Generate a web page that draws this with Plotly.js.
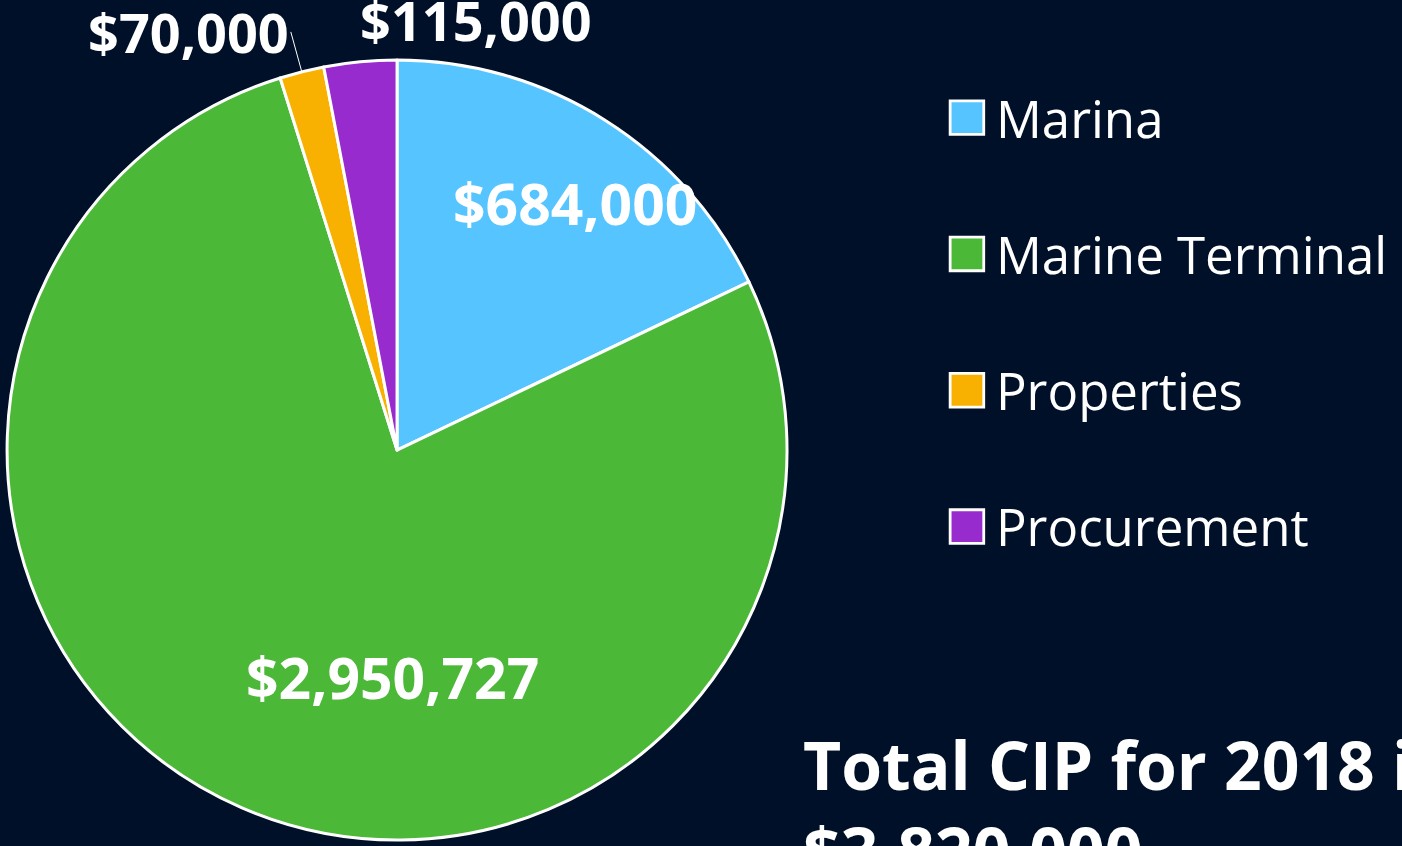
<!DOCTYPE html>
<html>
<head>
<meta charset="utf-8">
<script src="https://cdn.plot.ly/plotly-3.0.1.min.js"></script>
<style>
html,body{margin:0;padding:0;background:#001028;}
#chart{width:1402px;height:846px;}
</style>
</head>
<body>
<div id="chart"></div>
<script>
const categories = ['Marina', 'Marine Terminal', 'Properties', 'Procurement'];
const values = [684000, 2950727, 70000, 115000];
const valueLabels = ['$684,000', '$2,950,727', '$70,000', '$115,000'];
const colors = ['#56C4FF', '#4CB837', '#F8B100', '#972BCD'];
const totalText = 'Total CIP for 2018 is<br>$3,820,000';

const W = 1402, H = 846;
const pieDomain = {x: [0.005, 0.5614], y: [0.0071, 0.929]};

// slice mid-point on the rim, derived from the data (clockwise from 12 o'clock)
function rimPoint(i) {
  const total = values.reduce((a, b) => a + b, 0);
  let before = 0;
  for (let k = 0; k < i; k++) before += values[k];
  const mid = (before + values[i] / 2) / total * 2 * Math.PI;
  const cx = (pieDomain.x[0] + pieDomain.x[1]) / 2;
  const cy = (pieDomain.y[0] + pieDomain.y[1]) / 2;
  const rPx = Math.min((pieDomain.x[1] - pieDomain.x[0]) * W, (pieDomain.y[1] - pieDomain.y[0]) * H) / 2;
  return {x: cx + rPx * Math.sin(mid) / W, y: cy + rPx * Math.cos(mid) / H};
}

const pie = {
  type: 'pie',
  labels: categories,
  values: values,
  textinfo: 'none',
  sort: false,
  direction: 'clockwise',
  rotation: 0,
  marker: {colors: colors, line: {color: '#ffffff', width: 3}},
  domain: pieDomain,
  showlegend: false,
  hoverinfo: 'label+value+percent'
};

const legendTraces = categories.map((c, i) => ({
  type: 'scatter',
  mode: 'markers',
  x: [null], y: [null],
  name: c,
  legendgroup: 'g' + i,
  marker: {symbol: 'square', size: 12, color: colors[i], line: {color: '#ffffff', width: 1}},
  showlegend: true,
  hoverinfo: 'skip'
}));

const labelFont = {family: 'Open Sans, Noto Sans, sans-serif', size: 57, color: '#ffffff', weight: 700};
const outFont = {family: 'Open Sans, Noto Sans, sans-serif', size: 54, color: '#ffffff', weight: 700};
const p70 = rimPoint(2);

const layout = {
  width: W, height: H,
  margin: {l: 0, r: 0, t: 0, b: 0},
  paper_bgcolor: '#001028',
  plot_bgcolor: '#001028',
  xaxis: {visible: false},
  yaxis: {visible: false},
  showlegend: true,
  legend: {
    x: 0.669, y: 0.9078, xanchor: 'left', yanchor: 'top',
    bgcolor: 'rgba(0,0,0,0)',
    font: {family: 'Open Sans, Noto Sans, sans-serif', size: 51, color: '#ffffff'},
    tracegroupgap: 67,
    itemwidth: 48,
    traceorder: 'grouped'
  },
  annotations: [
    {xref: 'paper', yref: 'paper', x: 0.4101, y: 0.7600, xanchor: 'center', yanchor: 'middle',
     showarrow: false, text: valueLabels[0], font: labelFont},
    {xref: 'paper', yref: 'paper', x: 0.2803, y: 0.1998, xanchor: 'center', yanchor: 'middle',
     showarrow: false, text: valueLabels[1], font: labelFont},
    {xref: 'paper', yref: 'paper', x: p70.x, y: p70.y, showarrow: true,
     ax: -11, ay: -40, xanchor: 'right', yanchor: 'middle',
     arrowhead: 0, arrowwidth: 1, arrowcolor: '#ffffff',
     text: valueLabels[2], font: outFont},
    {xref: 'paper', yref: 'paper', x: 0.3395, y: 0.9764, xanchor: 'center', yanchor: 'middle',
     showarrow: false, text: valueLabels[3], font: outFont},
    {xref: 'paper', yref: 'paper', x: 0.5715, y: 0.152,
     xanchor: 'left', yanchor: 'top', align: 'left', showarrow: false,
     text: totalText,
     font: {family: 'Open Sans, Noto Sans, sans-serif', size: 66, color: '#ffffff', weight: 700}}
  ]
};

function enlargeLegendSymbols() {
  document.querySelectorAll('.legend .legendpoints path.scatterpts').forEach(p => {
    const t = p.getAttribute('transform') || '';
    if (t.indexOf('scale') === -1) p.setAttribute('transform', t + ' scale(2.8)');
  });
}

Plotly.newPlot('chart', [pie].concat(legendTraces), layout, {displayModeBar: false}).then(gd => {
  enlargeLegendSymbols();
  gd.on('plotly_afterplot', enlargeLegendSymbols);
});
</script>
</body>
</html>
